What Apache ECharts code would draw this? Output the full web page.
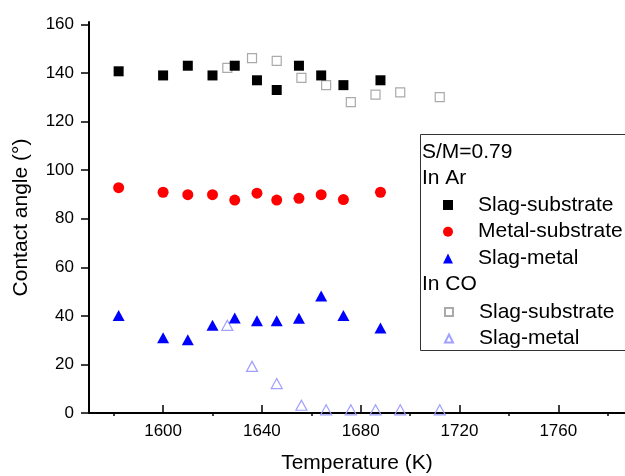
<!DOCTYPE html>
<html>
<head>
<meta charset="utf-8">
<script src="https://cdn.jsdelivr.net/npm/echarts@6/dist/echarts.min.js"></script>
<style>html,body{margin:0;padding:0;background:#fff}#c{width:625px;height:476px}</style>
</head>
<body>
<div id="c"></div>
<script>
// ---- data ----
const arTemps = [1582, 1600, 1610, 1620, 1629, 1638, 1646, 1655, 1664, 1673, 1688];
const arSlagSubstrate = [140.7, 139, 143, 139, 143, 137, 133, 143, 139, 135, 137];
const arMetalSubstrate = [92.8, 90.9, 89.9, 89.9, 87.7, 90.5, 87.7, 88.4, 89.9, 87.9, 90.9];
const arSlagMetal = [40.1, 31.0, 30.2, 36.1, 39.1, 38.0, 38.0, 39.0, 48.2, 40.1, 35.0];
const coTemps = [1626, 1636, 1646, 1656, 1666, 1676, 1686, 1696, 1712];
const coSlagSubstrate = [142.1, 146.1, 145.0, 138.0, 135.0, 128.0, 131.1, 132.0, 130.1];
const coSlagMetal = [36.1, 19.2, 12.1, 3.2, 1.3, 1.3, 1.3, 1.3, 1.3];
const xMajorTicks = [1600, 1640, 1680, 1720, 1760];
const xMinorTicks = [1580, 1620, 1660, 1700, 1740, 1780];
const yMajorTicks = [0, 20, 40, 60, 80, 100, 120, 140, 160];
const yMinorTicks = [10, 30, 50, 70, 90, 110, 130, 150];
const seriesNames = ['Slag-substrate', 'Metal-substrate', 'Slag-metal'];
const headerTexts = ['S/M=0.79', 'In Ar', 'In CO'];

const pairs = (xs, ys) => xs.map((x, i) => [x, ys[i]]);
const FONT = 'Liberation Sans, Arial, sans-serif';

const chart = echarts.init(document.getElementById('c'), null, {renderer: 'canvas'});
const xBase = {type: 'value', min: 1570, max: 1787, gridIndex: 0};
const yBase = {type: 'value', min: 0, max: 161, gridIndex: 0};
const plain = v => String(v);

chart.setOption({
  animation: false,
  backgroundColor: '#fff',
  grid: {left: 89, top: 22, right: 0, bottom: 63, containLabel: false, outerBoundsMode: 'none'},
  xAxis: [
    Object.assign({}, xBase, {
      name: 'Temperature (K)', nameLocation: 'middle', nameGap: 40,
      nameTextStyle: {fontFamily: FONT, fontSize: 21, color: '#000'},
      axisLine: {onZero: false, lineStyle: {color: '#000', width: 2}},
      axisTick: {show: true, inside: true, length: 8, customValues: xMajorTicks, lineStyle: {color: '#000', width: 1.5}},
      axisLabel: {customValues: xMajorTicks, formatter: plain, margin: 10, fontFamily: FONT, fontSize: 17, color: '#000'},
      splitLine: {show: false}
    }),
    Object.assign({}, xBase, {
      axisLine: {show: false},
      axisTick: {show: true, inside: true, length: 3, customValues: xMinorTicks, lineStyle: {color: '#000', width: 1.5}},
      axisLabel: {show: false},
      splitLine: {show: false}
    })
  ],
  yAxis: [
    Object.assign({}, yBase, {
      name: 'Contact angle (°)', nameLocation: 'middle', nameGap: 57, nameRotate: 90,
      nameTextStyle: {fontFamily: FONT, fontSize: 21, color: '#000'},
      axisLine: {onZero: false, lineStyle: {color: '#000', width: 2}},
      axisTick: {show: true, inside: false, length: 8, customValues: yMajorTicks, lineStyle: {color: '#000', width: 1.5}},
      axisLabel: {customValues: yMajorTicks, formatter: plain, margin: 15, fontFamily: FONT, fontSize: 17, color: '#000'},
      splitLine: {show: false}
    }),
    Object.assign({}, yBase, {
      axisLine: {show: false},
      axisTick: {show: true, inside: false, length: 4, customValues: yMinorTicks, lineStyle: {color: '#000', width: 1.5}},
      axisLabel: {show: false},
      splitLine: {show: false}
    })
  ],
  legend: [
    {
      data: ['ar0', 'ar1', 'ar2'], orient: 'vertical', left: 443, top: 194, padding: 0,
      itemWidth: 10, itemHeight: 10, itemGap: 4.7,
      formatter: n => seriesNames[Number(n.slice(-1))],
      textStyle: {fontFamily: FONT, fontSize: 21, color: '#000', lineHeight: 22, padding: [0, 0, 0, 20]},
      selectedMode: false
    },
    {
      data: ['co0', 'co2'], orient: 'vertical', left: 444, top: 301, padding: 0,
      itemWidth: 8, itemHeight: 8, itemGap: 4.5,
      formatter: n => seriesNames[Number(n.slice(-1))],
      textStyle: {fontFamily: FONT, fontSize: 21, color: '#000', lineHeight: 22, padding: [0, 0, 0, 21]},
      selectedMode: false
    }
  ],
  graphic: [
    {type: 'rect', z: 0, shape: {x: 420.5, y: 134.5, width: 220, height: 216}, style: {fill: '#fff', stroke: '#333', lineWidth: 1}},
    {type: 'text', z: 1, left: 422, top: 142, style: {text: headerTexts[0], font: '21px ' + FONT, fill: '#000'}},
    {type: 'text', z: 1, left: 422, top: 168, style: {text: headerTexts[1], font: '21px ' + FONT, fill: '#000'}},
    {type: 'text', z: 1, left: 422, top: 274, style: {text: headerTexts[2], font: '21px ' + FONT, fill: '#000'}}
  ],
  series: [
    {name: 'co0', type: 'scatter', symbol: 'rect', symbolSize: 9, data: pairs(coTemps, coSlagSubstrate),
     itemStyle: {color: 'rgba(255,255,255,0)', borderColor: '#aaaaaa', borderWidth: 1.2, opacity: 1}},
    {name: 'co2', type: 'scatter', symbol: 'triangle', symbolSize: [11, 10], data: pairs(coTemps, coSlagMetal),
     itemStyle: {color: 'rgba(255,255,255,0)', borderColor: '#a0a0ff', borderWidth: 1.2, opacity: 1}},
    {name: 'ar0', type: 'scatter', symbol: 'rect', symbolSize: 10, data: pairs(arTemps, arSlagSubstrate),
     itemStyle: {color: '#000', opacity: 1}},
    {name: 'ar1', type: 'scatter', symbol: 'circle', symbolSize: 11, data: pairs(arTemps, arMetalSubstrate),
     itemStyle: {color: '#ff0000', opacity: 1}},
    {name: 'ar2', type: 'scatter', symbol: 'triangle', symbolSize: [12, 11], data: pairs(arTemps, arSlagMetal),
     itemStyle: {color: '#0000ff', opacity: 1}}
  ]
});
</script>
</body>
</html>
